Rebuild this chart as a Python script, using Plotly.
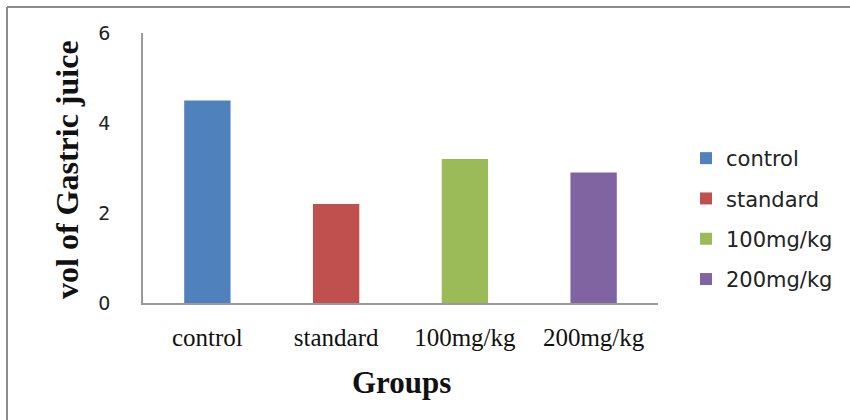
import plotly.graph_objects as go

# Gastric juice volume by treatment group
groups = ["control", "standard", "100mg/kg", "200mg/kg"]
volumes = [4.5, 2.2, 3.2, 2.9]
colors = ["#4F81BD", "#C0504D", "#9BBB59", "#8064A2"]
y_ticks = [0, 2, 4, 6]

W, H = 850, 420
L, R, T, B = 143, 192, 33, 117
pw, ph = W - L - R, H - T - B

SERIF = "Liberation Serif, Times New Roman, serif"
SANS = "DejaVu Sans, sans-serif"

fig = go.Figure()
for g, v, c in zip(groups, volumes, colors):
    fig.add_trace(go.Bar(
        x=[g], y=[v], name=g, marker=dict(color=c, line=dict(width=0)),
        width=0.36, legendgroup=g,
    ))


def px_x(p):
    return (p - L) / pw


def px_y(p):
    return (H - B - p) / ph


frame = dict(color="#8C8C8C", width=2)

fig.update_layout(
    width=W, height=H,
    margin=dict(l=L, r=R, t=T, b=B, pad=0, autoexpand=False),
    paper_bgcolor="#FFFFFF", plot_bgcolor="#FFFFFF",
    barmode="overlay",
    showlegend=True,
    legend=dict(
        x=px_x(686), y=px_y(138), xanchor="left", yanchor="top",
        font=dict(family=SANS, size=21, color="#222222"),
        traceorder="grouped", tracegroupgap=10,
        bgcolor="rgba(0,0,0,0)",
    ),
    xaxis=dict(
        categoryorder="array", categoryarray=groups,
        showline=True, linecolor="#9A9A9A", linewidth=1.5,
        showgrid=False, zeroline=False,
        ticks="outside", ticklen=11, tickcolor="rgba(0,0,0,0)",
        tickfont=dict(family=SERIF, size=25, color="#111111"),
    ),
    yaxis=dict(
        range=[0, 6], tickvals=y_ticks,
        showline=True, linecolor="#9A9A9A", linewidth=1.5,
        showgrid=False, zeroline=False,
        ticks="outside", ticklen=27, tickcolor="rgba(0,0,0,0)",
        tickfont=dict(family=SANS, size=19, color="#222222"),
    ),
    annotations=[
        dict(text="<b>vol of Gastric juice</b>", textangle=-90,
             xref="paper", yref="paper", x=px_x(67), y=px_y(170),
             xanchor="center", yanchor="middle", showarrow=False,
             font=dict(family=SERIF, size=32, color="#111111")),
        dict(text="<b>Groups</b>",
             xref="paper", yref="paper", x=px_x(401), y=px_y(382),
             xanchor="center", yanchor="middle", showarrow=False,
             font=dict(family=SERIF, size=31, color="#111111")),
    ],
    shapes=[
        dict(type="line", xref="paper", yref="paper",
             x0=px_x(7), x1=px_x(W), y0=px_y(7), y1=px_y(7), line=frame),
        dict(type="line", xref="paper", yref="paper",
             x0=px_x(7), x1=px_x(7), y0=px_y(7), y1=px_y(H), line=frame),
    ],
)

fig.write_html("out.html")
